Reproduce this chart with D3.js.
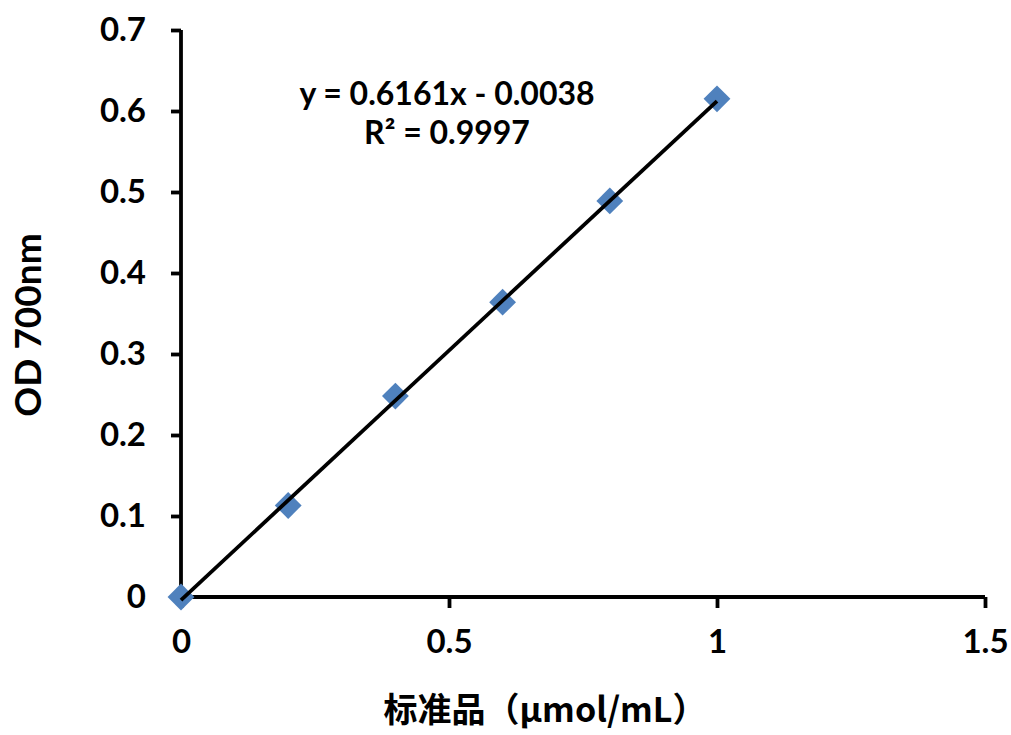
<!DOCTYPE html>
<html>
<head>
<meta charset="utf-8">
<script src="https://cdn.jsdelivr.net/npm/d3@7"></script>
<style>
  html, body { margin: 0; padding: 0; background: #fff; }
  svg text { font-family: Lato, "Open Sans", sans-serif; font-weight: bold; fill: #000; }
</style>
</head>
<body>
<div id="root"></div>
<script>
// standard curve data
const conc = [0, 0.2, 0.4, 0.6, 0.8, 1.0]
const od = [0, 0.113, 0.248, 0.364, 0.489, 0.615]
const xTicks = [0, 0.5, 1, 1.5]
const yTicks = [0, 0.1, 0.2, 0.3, 0.4, 0.5, 0.6, 0.7]
const slope = 0.6161
const intercept = -0.0038
const eqText = ['y = 0.6161x - 0.0038', 'R² = 0.9997']

const width = 1011
const height = 735

const svg = d3.select('#root').append('svg')
  .attr('width', width)
  .attr('height', height)

const x = d3.scaleLinear().domain([0, 1.5]).range([181, 985])
const y = d3.scaleLinear().domain([0, 0.7]).range([597, 30])

// axes
const xAxis = svg.append('g')
  .attr('transform', `translate(0,${y(0)})`)
  .call(d3.axisBottom(x).tickValues(xTicks).tickSize(11).tickPadding(22)
    .tickFormat(d => d3.format('')(d)))
const yAxis = svg.append('g')
  .attr('transform', `translate(${x(0)},0)`)
  .call(d3.axisLeft(y).tickValues(yTicks).tickSize(10).tickPadding(25)
    .tickFormat(d => d3.format('')(+d.toFixed(1))))

;[xAxis, yAxis].forEach(g => {
  g.select('.domain').attr('stroke', '#000').attr('stroke-width', 3.8)
  g.selectAll('.tick line').attr('stroke', '#000').attr('stroke-width', 3.8)
  g.selectAll('.tick text').style('font-size', '33px')
})
xAxis.select('.domain').attr('d', `M${x(0)},0H${x(1.5)}`)
yAxis.select('.domain').attr('d', `M0,${y(0)}V${y(0.7)}`)

// markers
const diamond = d3.symbol().type(d3.symbolSquare).size(360)
svg.append('g')
  .selectAll('path')
  .data(conc.map((c, i) => ({ c, v: od[i] })))
  .join('path')
  .attr('d', diamond)
  .attr('transform', d => `translate(${x(d.c)},${y(d.v)}) rotate(45)`)
  .attr('fill', '#4f81bd')

// trendline
const fit = d3.line()
  .x(d => x(d))
  .y(d => y(slope * d + intercept))
svg.append('path')
  .datum([0, 1])
  .attr('d', fit)
  .attr('stroke', '#000')
  .attr('stroke-width', 3.8)
  .attr('fill', 'none')

// equation
svg.append('text')
  .attr('x', 447)
  .attr('text-anchor', 'middle')
  .style('font-size', '32px')
  .selectAll('tspan')
  .data(eqText)
  .join('tspan')
  .attr('x', 447)
  .attr('y', (d, i) => 105 + i * 39)
  .text(d => d)

// axis titles
svg.append('text')
  .attr('transform', `translate(41,325) rotate(-90)`)
  .attr('text-anchor', 'middle')
  .style('font-size', '37px')
  .text('OD 700nm')

svg.append('text')
  .attr('x', 545)
  .attr('y', 722)
  .attr('text-anchor', 'middle')
  .style('font-size', '34px')
  .style('font-family', '"Noto Sans CJK SC", Lato, sans-serif')
  .text('标准品（μmol/mL）')
</script>
</body>
</html>
